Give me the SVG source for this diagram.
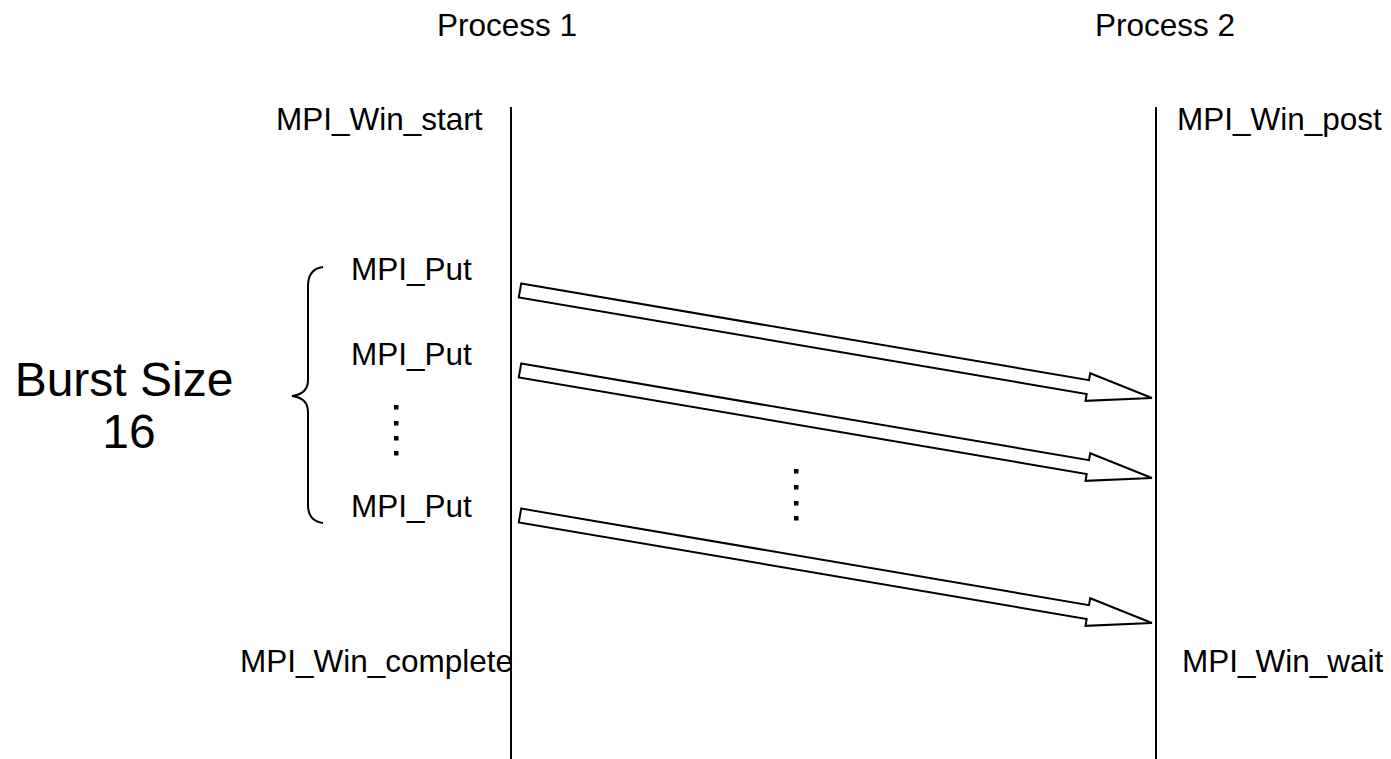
<svg xmlns="http://www.w3.org/2000/svg" width="1391" height="759" viewBox="0 0 1391 759">
  <style>
    text { font-family: "Liberation Sans", Arial, sans-serif; fill: #000; }
    .lbl { font-size: 31.5px; }
    .big { font-size: 48px; }
    .life { stroke: #000; stroke-width: 2; fill: none; }
    .put { fill: #fff; stroke: #000; stroke-width: 2; stroke-linejoin: miter; }
    .dot { fill: #000; }
  </style>
  <defs>
    <!-- hollow block arrow, tail at origin pointing along +x -->
    <path id="blockArrow" d="M0,-7 L576,-7 L576,-14 L641,0 L576,14 L576,7 L0,7 Z"/>
  </defs>

  <g id="process1">
    <text class="lbl" x="507" y="36" text-anchor="middle">Process 1</text>
    <line class="life" x1="511" y1="107" x2="511" y2="759"/>
    <text class="lbl" x="276" y="130">MPI_Win_start</text>
    <text class="lbl" x="240" y="672">MPI_Win_complete</text>
  </g>

  <g id="process2">
    <text class="lbl" x="1165" y="36" text-anchor="middle">Process 2</text>
    <line class="life" x1="1156" y1="107" x2="1156" y2="759"/>
    <text class="lbl" x="1177" y="130">MPI_Win_post</text>
    <text class="lbl" x="1182" y="672">MPI_Win_wait</text>
  </g>

  <g id="burst">
    <text class="big" x="124" y="396" text-anchor="middle">Burst Size</text>
    <text class="big" x="129" y="448" text-anchor="middle">16</text>
    <path class="life" d="M323,267 Q308,269 308,286 L308,380 Q308,394 292,396 Q308,398 308,412 L308,505 Q308,521 323,523"/>
    <text class="lbl" x="351" y="280">MPI_Put</text>
    <text class="lbl" x="351" y="365">MPI_Put</text>
    <text class="lbl" x="351" y="517">MPI_Put</text>
    <rect class="dot" x="394" y="405" width="4.5" height="4.5"/>
    <rect class="dot" x="394" y="421" width="4.5" height="4.5"/>
    <rect class="dot" x="394" y="436" width="4.5" height="4.5"/>
    <rect class="dot" x="394" y="451" width="4.5" height="4.5"/>
  </g>

  <g id="connectors">
    <use href="#blockArrow" class="put" transform="translate(520,290.5) rotate(9.65)"/>
    <use href="#blockArrow" class="put" transform="translate(520,370.5) rotate(9.65)"/>
    <use href="#blockArrow" class="put" transform="translate(520,515.5) rotate(9.65)"/>
    <rect class="dot" x="794" y="469" width="4.5" height="4.5"/>
    <rect class="dot" x="794" y="485" width="4.5" height="4.5"/>
    <rect class="dot" x="794" y="501" width="4.5" height="4.5"/>
    <rect class="dot" x="794" y="516" width="4.5" height="4.5"/>
  </g>
</svg>
